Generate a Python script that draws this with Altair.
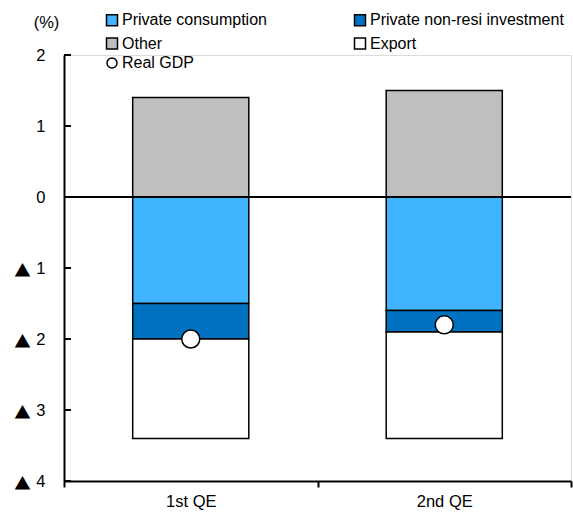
import altair as alt
import pandas as pd

# Contributions to real GDP change (percentage points)
periods = ["1st QE", "2nd QE"]
components = ["Private consumption", "Other", "Private non-resi investment", "Export"]
private_consumption = [-1.5, -1.6]
private_nonresi_investment = [-0.5, -0.3]
other = [1.4, 1.5]
export = [-1.4, -1.5]
real_gdp = [-2.0, -1.8]
y_ticks = [2, 1, 0, -1, -2, -3, -4]

colors = ["#41B4FF", "#BFBFBF", "#0070C0", "#FFFFFF"]
stack_rank = {"Other": 0, "Private consumption": 1,
              "Private non-resi investment": 2, "Export": 3}

series = {
    "Private consumption": private_consumption,
    "Private non-resi investment": private_nonresi_investment,
    "Other": other,
    "Export": export,
}
rows = []
for comp, vals in series.items():
    for p, v in zip(periods, vals):
        rows.append({"period": p, "component": comp, "value": v, "rank": stack_rank[comp]})
bars_df = pd.DataFrame(rows)
gdp_df = pd.DataFrame({"period": periods, "value": real_gdp, "series": ["Real GDP"] * len(periods)})
ticks_df = pd.DataFrame({"value": y_ticks})
neg_ticks_df = pd.DataFrame({"value": [t for t in y_ticks if t < 0]})

FONT = "Liberation Sans"
FS = 16.5
LEG_FS = 16

x_enc = alt.X(
    "period:N",
    sort=periods,
    scale=alt.Scale(paddingInner=0, paddingOuter=0),
    axis=alt.Axis(title=None, labelAngle=0, tickBand="extent", tickSize=6,
                  tickWidth=2, tickColor="black", domainColor="black",
                  domainWidth=2, labelPadding=6, labelFontSize=FS,
                  labelFont=FONT, labelColor="black"),
)
y_scale = alt.Scale(domain=[-4, 2], nice=False, zero=False)
# negative values are written as magnitudes; a triangle marker is drawn beside them
y_axis = alt.Axis(
    values=y_ticks, grid=False, ticks=False, tickSize=0,
    domainColor="black", domainWidth=2,
    labelExpr="'' + abs(datum.value)",
    labelPadding=19, labelFontSize=FS, labelFont=FONT, labelColor="black",
    title="(%)", titleAngle=0, titleX=-18, titleY=-33,
    titleAlign="center", titleBaseline="middle",
    titleFont=FONT, titleFontSize=FS, titleFontWeight="normal", titleColor="black",
)

bars = alt.Chart(bars_df).mark_bar(
    width=alt.RelativeBandSize(0.458), stroke="black", strokeWidth=1.5
).encode(
    x=x_enc,
    y=alt.Y("value:Q", stack="zero", scale=y_scale, axis=y_axis),
    order=alt.Order("rank:Q"),
    fill=alt.Fill(
        "component:N",
        scale=alt.Scale(domain=components, range=colors),
        legend=alt.Legend(
            title=None, orient="none", legendX=40, legendY=-43, columns=2,
            columnPadding=84, rowPadding=5.5, symbolType="square", symbolSize=121,
            symbolStrokeColor="black", symbolStrokeWidth=1.5, labelOffset=2,
            labelFont=FONT, labelFontSize=LEG_FS, labelColor="black", labelLimit=400,
            padding=0,
        ),
    ),
)

# inward-pointing y-axis ticks
y_tick_marks = alt.Chart(ticks_df).mark_rule(color="black", strokeWidth=2).encode(
    y=alt.Y("value:Q", scale=y_scale, axis=y_axis),
    x=alt.value(0),
    x2=alt.value(7),
)

# triangle sign in front of negative tick labels
neg_signs = alt.Chart(neg_ticks_df).mark_text(
    text="\u25b2", font="Noto Sans CJK JP", fontSize=16.5, align="center",
    baseline="middle", dy=4, color="black"
).encode(
    y=alt.Y("value:Q", scale=y_scale, axis=y_axis),
    x=alt.value(-41.5),
)

zero_line = alt.Chart(ticks_df).mark_rule(color="black", strokeWidth=2).encode(
    y=alt.datum(0, scale=y_scale, axis=y_axis)
)

gdp = alt.Chart(gdp_df).mark_point(
    filled=True, fill="white", strokeWidth=1.5, size=324, opacity=1
).encode(
    x=alt.X("period:N", sort=periods),
    y=alt.Y("value:Q", scale=y_scale, axis=y_axis),
    stroke=alt.Stroke(
        "series:N",
        scale=alt.Scale(domain=["Real GDP"], range=["black"]),
        legend=alt.Legend(
            title=None, orient="none", legendX=40, legendY=0, symbolSize=100,
            symbolType="circle", symbolFillColor="white", symbolStrokeWidth=1.5,
            symbolOpacity=1, labelOffset=2, labelFont=FONT, labelFontSize=LEG_FS,
            labelColor="black", padding=0,
        ),
    ),
)

chart = alt.layer(bars, zero_line, y_tick_marks, neg_signs, gdp).properties(
    width=507,
    height=426,
    padding={"left": 64, "top": 55, "right": 2, "bottom": 34},
    autosize="none",
).configure_view(stroke=None).configure(background="white")

chart.save("out.html", embed_options={"renderer": "svg", "actions": False})
